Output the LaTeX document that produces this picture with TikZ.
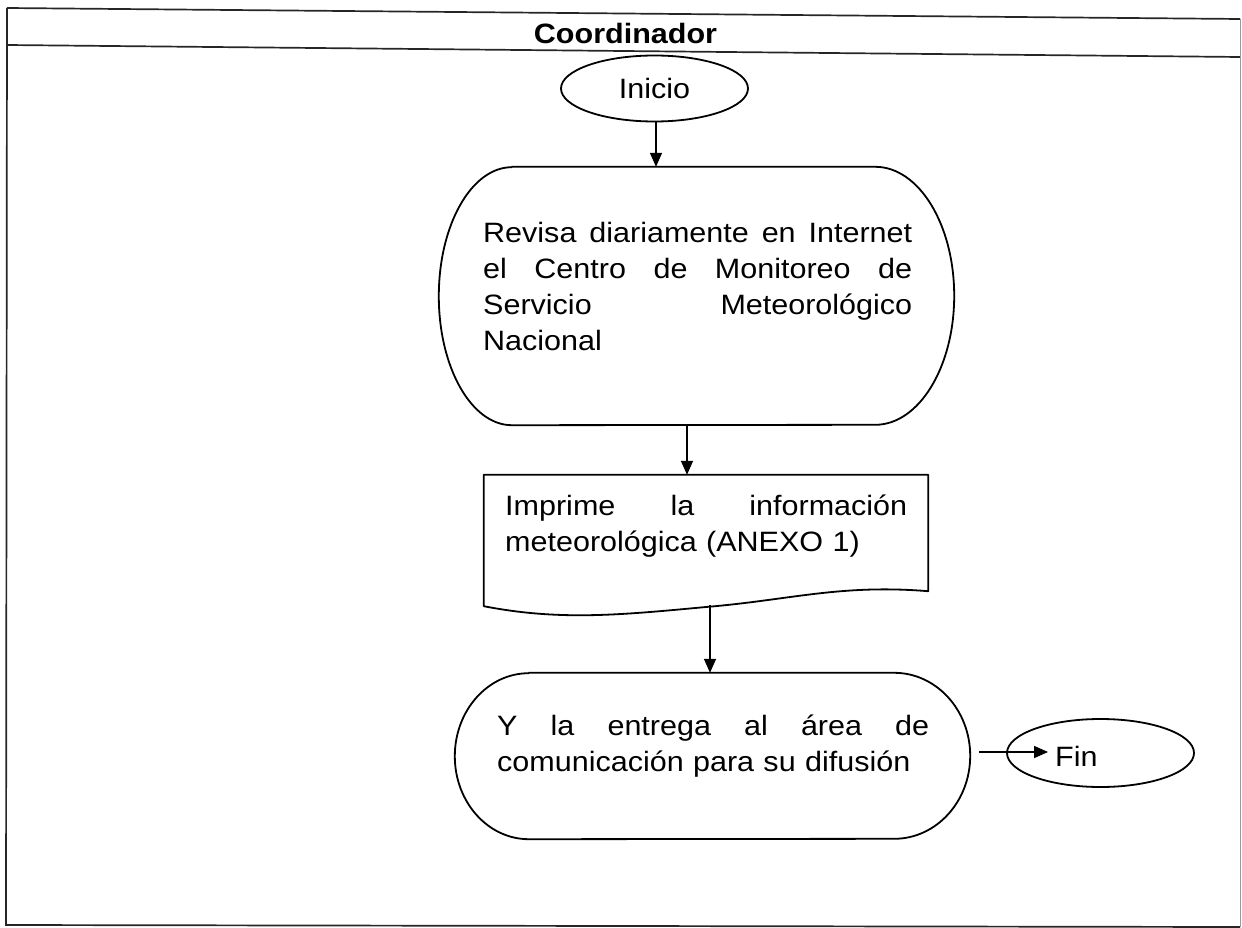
\documentclass[tikz,border=0pt]{standalone}
\usepackage{fontspec}
\setmainfont{Liberation Sans}[FakeStretch=1.09]
\usetikzlibrary{arrows.meta,shapes.geometric}
\newcommand\jline[1]{\makebox[\linewidth][s]{#1}}
\begin{document}
\begin{tikzpicture}[x=1pt,y=1pt,
  frame/.style={line width=1.7pt, draw=black!85},
  shp/.style={line width=1.8pt, line join=round},
  arr/.style={line width=1.6pt,-{Triangle[length=14pt,width=12pt]}},
  txt/.style={anchor=north west, inner sep=0pt, align=left},
  every node/.style={font=\fontsize{28}{36}\selectfont}]
\useasboundingbox (0,0) rectangle (1242,-928);

% frame
\draw[frame] (7,-8) -- (1240,-19);
\draw[frame] (7,-45) -- (1240,-57);
\draw[frame] (7,-8) -- (6,-925) -- (1240,-927);
\draw[line width=1pt, draw=black!40] (1240,-19) -- (1240,-927);
\node[anchor=base, inner sep=0pt] (coord) at (625.5,-44) {\bfseries Coordinador};

% Inicio
\node[ellipse, draw, shp, minimum width=187pt, minimum height=66pt, inner sep=0pt] (inicio) at (654.5,-88.5) {\raisebox{-3pt}{Inicio}};

% big terminal box
\node[minimum width=515pt, minimum height=258pt, inner sep=0pt] (big) at (696.5,-296) {};
\draw[shp] ([xshift=73pt]big.north west) -- ([xshift=-79pt]big.north east)
  arc[start angle=90,end angle=-90,x radius=79pt,y radius=129pt]
  -- ([xshift=73pt]big.south west)
  arc[start angle=270,end angle=90,x radius=73pt,y radius=129pt] -- cycle;
\node[txt, text width=429pt] (t1) at (483,-216.8) {\strut\jline{Revisa\hfill diariamente\hfill en\hfill Internet}\\
\jline{el\hfill Centro\hfill de\hfill Monitoreo\hfill de}\\
\jline{Servicio\hfill Meteorológico}\\
Nacional};

% document box
\node[minimum width=444pt, minimum height=130pt, inner sep=0pt] (doc) at (706,-540) {};
\draw[shp] ([yshift=-1pt]doc.south west) -- (doc.north west) -- (doc.north east)
  -- ([yshift=14pt]doc.south east)
  .. controls (840,-584) and (790,-600) .. (706,-607)
  .. controls (620,-615) and (560,-621) .. ([yshift=-1pt]doc.south west) -- cycle;
\node[txt, text width=402pt] (t2) at (505,-489.8) {\strut\jline{Imprime\hfill la\hfill información}\\
meteorológica (ANEXO 1)};

% second terminal box
\node[minimum width=515pt, minimum height=166pt, inner sep=0pt] (t2box) at (712.5,-756) {};
\draw[shp] ([xshift=74pt]t2box.north west) -- ([xshift=-76pt]t2box.north east)
  arc[start angle=90,end angle=-90,x radius=76pt,y radius=83pt]
  -- ([xshift=74pt]t2box.south west)
  arc[start angle=270,end angle=90,x radius=74pt,y radius=83pt] -- cycle;
\node[txt, text width=432pt] (t3) at (497,-709.8) {\strut\jline{Y\hfill la\hfill entrega\hfill al\hfill área\hfill de}\\
comunicación para su difusión};

% Fin
\node[ellipse, draw, shp, minimum width=187pt, minimum height=68pt, inner sep=0pt] (fin) at (1100.5,-753) {};
\node[anchor=base west, inner sep=0pt] (fintxt) at (1055,-766) {Fin};

% connectors
\coordinate (a1) at (656,0);
\coordinate (a2) at (687,0);
\coordinate (a3) at (710,0);
\coordinate (f0) at (979,-752);
\coordinate (f1) at (1048,-752);
\draw[arr] (inicio.south -| a1) -- (big.north -| a1);
\draw[arr] (big.south -| a2) -- (doc.north -| a2);
\draw[arr] (doc.south -| a3) -- (t2box.north -| a3);
\draw[arr] (f0) -- (f1);
\end{tikzpicture}
\end{document}
